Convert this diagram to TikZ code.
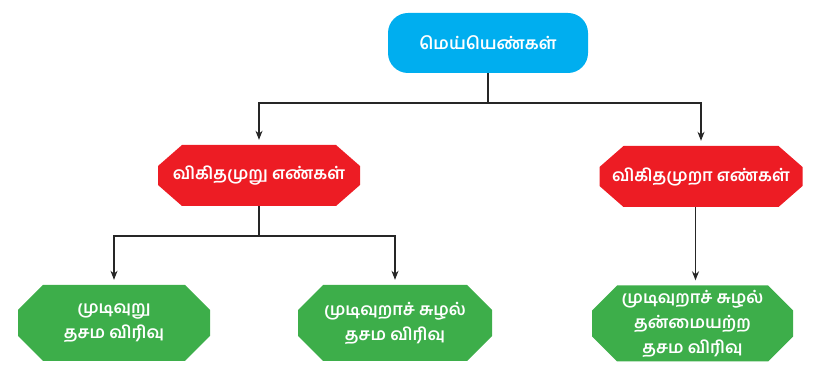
\documentclass[tikz,border=0pt]{standalone}
\usepackage{fontspec}
\newfontfamily\tamilfont[Script=Tamil]{Hind Madurai}
\usepackage{xcolor}
\usetikzlibrary{arrows.meta,positioning}
\definecolor{skyblue}{HTML}{00AEEF}
\definecolor{flagred}{HTML}{ED1C24}
\definecolor{leafgreen}{HTML}{3DAE4A}
\tikzset{
  rootbox/.style={
    rectangle, rounded corners=20pt, fill=skyblue, draw=none,
    minimum width=200pt, minimum height=60pt,
    font=\tamilfont\bfseries\fontsize{17}{26}\selectfont, text=white, align=center
  },
  % octagon drawn inside a plain rectangle
  kindbox/.style={
    rectangle, draw=none, inner sep=0pt,
    font=\tamilfont\bfseries\fontsize{17}{25}\selectfont, text=white, align=center,
    path picture={
      \fill[#1] ([xshift=\chamx]path picture bounding box.north west)
        -- ([xshift=-\chamx]path picture bounding box.north east)
        -- ([yshift=-\chamy]path picture bounding box.north east)
        -- ([yshift=\chamy]path picture bounding box.south east)
        -- ([xshift=-\chamx]path picture bounding box.south east)
        -- ([xshift=\chamx]path picture bounding box.south west)
        -- ([yshift=\chamy]path picture bounding box.south west)
        -- ([yshift=-\chamy]path picture bounding box.north west) -- cycle;
    }
  },
  kindbox/.default=flagred,
  linkarrow/.style={
    -{Stealth[length=9pt,width=7pt]}, line width=1.1pt, draw=black!85, shorten >=5pt
  },
}
\newcommand\chamx{24pt}
\newcommand\chamy{21pt}
\begin{document}
\begin{tikzpicture}[x=1pt,y=-1pt]
  \useasboundingbox (0,0) rectangle (815,387);
  \node[rootbox] (real) at (488,43) {மெய்யெண்கள்};
  \node[kindbox, minimum width=202pt, minimum height=61pt] (rat) at (259,175.5) {விகிதமுறு எண்கள்};
  \node[kindbox, minimum width=203pt, minimum height=61pt] (irr) at (701,176.5) {விகிதமுறா எண்கள்};
  \renewcommand\chamx{25pt}
  \renewcommand\chamy{25pt}
  \node[kindbox=leafgreen, minimum width=192pt, minimum height=76pt] (term) at (114,323) {முடிவுறு\\தசம விரிவு};
  \node[kindbox=leafgreen, minimum width=194pt, minimum height=76pt] (recur) at (395,323) {முடிவுறாச் சுழல்\\தசம விரிவு};
  \node[kindbox=leafgreen, minimum width=201pt, minimum height=76pt] (nonrec) at (692.5,323.5) {முடிவுறாச் சுழல்\\தன்மையற்ற\\தசம விரிவு};
  % split points
  \coordinate (split1) at (488,103);
  \coordinate (split2) at (259,236);
  \draw[linkarrow] (real) -- (split1) -| (rat);
  \draw[linkarrow] (real) -- (split1) -| (irr);
  \draw[linkarrow] (rat) -- (split2) -| (term);
  \draw[linkarrow] (rat) -- (split2) -| (recur);
  \draw[linkarrow] ([xshift=3pt]irr.south -| nonrec.north) -- ([xshift=3pt]nonrec.north);
\end{tikzpicture}
\end{document}
